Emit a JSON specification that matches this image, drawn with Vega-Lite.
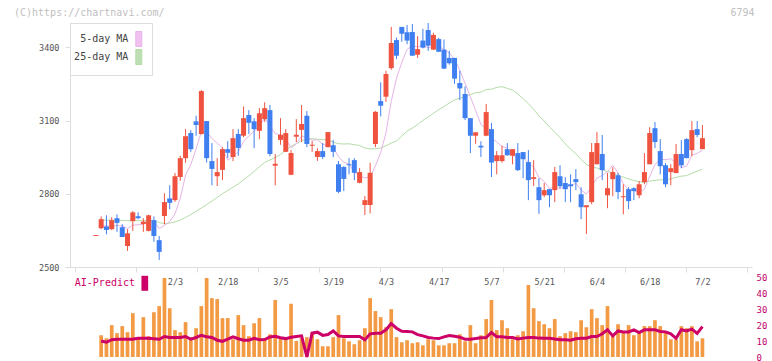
{
"$schema": "https://vega.github.io/schema/vega-lite/v6.json",
"background": "white",
"padding": {"left": 14, "top": 8, "right": 0, "bottom": 0},
"config": {"view": {"stroke": null}, "font": "DejaVu Sans Mono"},
"data": {"values": [
{"i":0,"o":2627,"h":2631,"l":2627,"c":2631},
{"i":1,"o":2659,"h":2707,"l":2655,"c":2696,"v":13.6,"a":10,"m5":2670,"m25":2692},
{"i":2,"o":2666,"h":2712,"l":2634,"c":2652,"v":11.7,"a":9.2,"m5":2668,"m25":2692},
{"i":3,"o":2655,"h":2704,"l":2651,"c":2692,"v":19.9,"a":10.8,"m5":2667,"m25":2692},
{"i":4,"o":2700,"h":2716,"l":2644,"c":2681,"v":14.9,"a":11.1,"m5":2670,"m25":2692},
{"i":5,"o":2663,"h":2675,"l":2623,"c":2623,"v":19.3,"a":11.1,"m5":2668.8,"m25":2691},
{"i":6,"o":2586,"h":2655,"l":2566,"c":2638,"v":15.5,"a":11.1,"m5":2657.2,"m25":2690},
{"i":7,"o":2688,"h":2729,"l":2648,"c":2724,"v":27.4,"a":11.1,"m5":2671.6,"m25":2690},
{"i":8,"o":2708,"h":2724,"l":2696,"c":2700,"v":11.7,"a":11.7,"m5":2673.2,"m25":2690},
{"i":9,"o":2676,"h":2700,"l":2644,"c":2686,"v":24.9,"a":11.7,"m5":2674.2,"m25":2690},
{"i":10,"o":2648,"h":2714,"l":2646,"c":2712,"v":13,"a":11.7,"m5":2692,"m25":2690},
{"i":11,"o":2692,"h":2707,"l":2603,"c":2627,"v":28,"a":11.4,"m5":2689.8,"m25":2689},
{"i":12,"o":2610,"h":2627,"l":2529,"c":2562,"v":31.8,"a":11.1,"m5":2657.4,"m25":2682},
{"i":13,"o":2709,"h":2802,"l":2675,"c":2766,"v":49.4,"a":12.8,"m5":2670.6,"m25":2678},
{"i":14,"o":2781,"h":2835,"l":2737,"c":2763,"v":30.5,"a":12.2,"m5":2686,"m25":2680},
{"i":15,"o":2774,"h":2885,"l":2767,"c":2872,"v":16.8,"a":12.2,"m5":2718,"m25":2685},
{"i":16,"o":2869,"h":2956,"l":2853,"c":2946,"v":15.5,"a":12.2,"m5":2781.8,"m25":2692},
{"i":17,"o":2946,"h":3065,"l":2927,"c":3036,"v":21.8,"a":12.8,"m5":2876.6,"m25":2703},
{"i":18,"o":3049,"h":3061,"l":2972,"c":2983,"v":12.4,"a":11.1,"m5":2920,"m25":2715},
{"i":19,"o":3097,"h":3120,"l":3038,"c":3082,"v":18,"a":12.2,"m5":2983.8,"m25":2728},
{"i":20,"o":3045,"h":3225,"l":3043,"c":3221,"v":31.8,"a":13.6,"m5":3053.6,"m25":2742},
{"i":21,"o":3098,"h":3098,"l":2928,"c":2946,"v":49.4,"a":12.6,"m5":3053.6,"m25":2756},
{"i":22,"o":2934,"h":3008,"l":2835,"c":2902,"v":36.8,"a":12.2,"m5":3026.8,"m25":2770},
{"i":23,"o":2872,"h":2946,"l":2832,"c":2889,"v":36.2,"a":10.5,"m5":3008,"m25":2785},
{"i":24,"o":2898,"h":2991,"l":2856,"c":2983,"v":24.3,"a":9.8,"m5":2988.2,"m25":2800.4},
{"i":25,"o":2983,"h":3016,"l":2947,"c":2968,"v":24.3,"a":11.1,"m5":2937.6,"m25":2814},
{"i":26,"o":2951,"h":3065,"l":2934,"c":3028,"v":11.1,"a":12.6,"m5":2954,"m25":2827.3},
{"i":27,"o":3045,"h":3065,"l":2956,"c":2988,"v":26.2,"a":11.4,"m5":2971.2,"m25":2840.7},
{"i":28,"o":3038,"h":3158,"l":3032,"c":3110,"v":19.9,"a":10.5,"m5":3015.4,"m25":2857.4},
{"i":29,"o":3123,"h":3143,"l":3045,"c":3091,"v":13,"a":10.5,"m5":3037,"m25":2873.8},
{"i":30,"o":3097,"h":3110,"l":2987,"c":3065,"v":21.1,"a":11.7,"m5":3056.4,"m25":2891.5},
{"i":31,"o":3058,"h":3151,"l":3024,"c":3130,"v":24.3,"a":10.8,"m5":3076.8,"m25":2911.2},
{"i":32,"o":3106,"h":3175,"l":3095,"c":3151,"v":11.7,"a":10.9,"m5":3109.4,"m25":2928.3},
{"i":33,"o":3143,"h":3164,"l":2954,"c":2963,"v":14.2,"a":12.5,"m5":3080,"m25":2938.8},
{"i":34,"o":2915,"h":2963,"l":2835,"c":2923,"v":35.6,"a":13,"m5":3046.4,"m25":2948.3},
{"i":35,"o":3021,"h":3110,"l":3001,"c":3042,"v":11.7,"a":12,"m5":3041.8,"m25":2961.5},
{"i":36,"o":2972,"h":3065,"l":2971,"c":3049,"v":11.7,"a":11.5,"m5":3025.6,"m25":2978.4},
{"i":37,"o":2878,"h":2979,"l":2876,"c":2967,"v":33.3,"a":12.3,"m5":2988.8,"m25":2994.6},
{"i":38,"o":3034,"h":3106,"l":3012,"c":3042,"v":10,"a":12.8,"m5":3004.6,"m25":3005.6},
{"i":39,"o":3062,"h":3164,"l":3012,"c":3086,"v":11.7,"a":13.2,"m5":3037.2,"m25":3018.5},
{"i":40,"o":3120,"h":3139,"l":2991,"c":3004,"v":12.4,"a":0,"m5":3029.6,"m25":3023.8},
{"i":41,"o":2997,"h":3016,"l":2972,"c":3001,"v":15.5,"a":14.9,"m5":3020,"m25":3026},
{"i":42,"o":2951,"h":2987,"l":2935,"c":2975,"v":11.1,"a":15.5,"m5":3021.6,"m25":3023.6},
{"i":43,"o":2975,"h":3008,"l":2942,"c":2951,"v":6.7,"a":13.5,"m5":3003.4,"m25":3022.3},
{"i":44,"o":2991,"h":3053,"l":2991,"c":3053,"v":6.7,"a":14,"m5":2996.8,"m25":3021.1},
{"i":45,"o":2999,"h":3021,"l":2950,"c":2972,"v":12.4,"a":16.3,"m5":2990.4,"m25":3011.2},
{"i":46,"o":2921,"h":2934,"l":2802,"c":2808,"v":26.2,"a":13.2,"m5":2951.8,"m25":3005.6},
{"i":47,"o":2910,"h":2913,"l":2811,"c":2861,"v":11.7,"a":12.8,"m5":2929,"m25":3004},
{"i":48,"o":2921,"h":2946,"l":2880,"c":2917,"v":9.8,"a":12.8,"m5":2922.2,"m25":3005.1},
{"i":49,"o":2938,"h":2946,"l":2856,"c":2886,"v":8,"a":12.8,"m5":2888.8,"m25":3001.2},
{"i":50,"o":2845,"h":2905,"l":2843,"c":2889,"v":10.5,"a":12.8,"m5":2872.2,"m25":2998.1},
{"i":51,"o":2754,"h":2791,"l":2713,"c":2774,"v":18,"a":10.7,"m5":2865.4,"m25":2987.9},
{"i":52,"o":2754,"h":2927,"l":2720,"c":2886,"v":36.8,"a":14.5,"m5":2870.4,"m25":2983.8},
{"i":53,"o":3004,"h":3139,"l":2991,"c":3136,"v":28.7,"a":14.9,"m5":2914.2,"m25":2984.9},
{"i":54,"o":3180,"h":3257,"l":3117,"c":3161,"v":24.9,"a":14.9,"m5":2969.2,"m25":2987.7},
{"i":55,"o":3198,"h":3304,"l":3177,"c":3291,"v":18.6,"a":17,"m5":3049.6,"m25":2996.7},
{"i":56,"o":3315,"h":3484,"l":3308,"c":3418,"v":29.9,"a":20.9,"m5":3178.4,"m25":3008.2},
{"i":57,"o":3430,"h":3440,"l":3352,"c":3366,"v":12.4,"a":18,"m5":3274.4,"m25":3016.8},
{"i":58,"o":3484,"h":3484,"l":3423,"c":3456,"v":9.2,"a":16.1,"m5":3338.4,"m25":3036.6},
{"i":59,"o":3462,"h":3492,"l":3413,"c":3428,"v":10.5,"a":16,"m5":3391.8,"m25":3056.8},
{"i":60,"o":3463,"h":3496,"l":3366,"c":3366,"v":8.6,"a":15.7,"m5":3406.8,"m25":3069.7},
{"i":61,"o":3370,"h":3446,"l":3357,"c":3393,"v":9.2,"a":14,"m5":3401.8,"m25":3083.5},
{"i":62,"o":3428,"h":3476,"l":3396,"c":3399,"v":7.3,"a":13.2,"m5":3408.4,"m25":3100.8},
{"i":63,"o":3471,"h":3500,"l":3386,"c":3407,"v":11.1,"a":12.2,"m5":3398.6,"m25":3115.4},
{"i":64,"o":3391,"h":3460,"l":3389,"c":3451,"v":10.5,"a":11.8,"m5":3403.2,"m25":3130},
{"i":65,"o":3434,"h":3439,"l":3381,"c":3382,"v":7.3,"a":11.5,"m5":3406.4,"m25":3145.1},
{"i":66,"o":3391,"h":3432,"l":3311,"c":3313,"v":7.3,"a":12.6,"m5":3390.4,"m25":3157.6},
{"i":67,"o":3357,"h":3386,"l":3329,"c":3335,"v":8.6,"a":13.4,"m5":3377.6,"m25":3172},
{"i":68,"o":3357,"h":3357,"l":3251,"c":3272,"v":8.6,"a":13,"m5":3350.6,"m25":3184.8},
{"i":69,"o":3254,"h":3304,"l":3184,"c":3232,"v":14.2,"a":12.4,"m5":3306.8,"m25":3192},
{"i":70,"o":3209,"h":3240,"l":3102,"c":3110,"v":9.8,"a":11.1,"m5":3252.4,"m25":3197.5},
{"i":71,"o":3110,"h":3110,"l":2967,"c":3038,"v":19.9,"a":11.1,"m5":3197.4,"m25":3206.7},
{"i":72,"o":3038,"h":3053,"l":3005,"c":3052,"v":8.6,"a":11.5,"m5":3140.8,"m25":3214.3},
{"i":73,"o":2997,"h":3015,"l":2951,"c":2990,"v":13.6,"a":12,"m5":3084.4,"m25":3217.2},
{"i":74,"o":3038,"h":3168,"l":3036,"c":3135,"v":23.7,"a":12.2,"m5":3065,"m25":3227.2},
{"i":75,"o":3065,"h":3090,"l":2869,"c":2928,"v":35.6,"a":15.3,"m5":3028.6,"m25":3228.8},
{"i":76,"o":2934,"h":2975,"l":2880,"c":2958,"v":16.8,"a":12.6,"m5":3012.6,"m25":3236.1},
{"i":77,"o":2934,"h":2997,"l":2928,"c":2958,"v":23,"a":12.6,"m5":2993.8,"m25":3239},
{"i":78,"o":2983,"h":3008,"l":2956,"c":2958,"v":18,"a":12.2,"m5":2987.4,"m25":3231.9},
{"i":79,"o":2956,"h":2983,"l":2921,"c":2983,"v":11.1,"a":12.2,"m5":2957,"m25":3224.8},
{"i":80,"o":2967,"h":3008,"l":2893,"c":2897,"v":13.6,"a":11.3,"m5":2950.8,"m25":3209},
{"i":81,"o":2971,"h":2971,"l":2864,"c":2942,"v":16.1,"a":11.8,"m5":2947.6,"m25":3190},
{"i":82,"o":2930,"h":2979,"l":2774,"c":2856,"v":45,"a":12.2,"m5":2927.2,"m25":3169.6},
{"i":83,"o":2861,"h":2938,"l":2832,"c":2868,"v":30.5,"a":12.2,"m5":2909.2,"m25":3146},
{"i":84,"o":2827,"h":2864,"l":2718,"c":2774,"v":22.4,"a":11.8,"m5":2867.4,"m25":3119.9},
{"i":85,"o":2794,"h":2844,"l":2786,"c":2815,"v":20.5,"a":11.7,"m5":2851,"m25":3097.8},
{"i":86,"o":2819,"h":2819,"l":2745,"c":2794,"v":18,"a":11.7,"m5":2821.4,"m25":3073.9},
{"i":87,"o":2815,"h":2910,"l":2766,"c":2889,"v":23.7,"a":11.2,"m5":2828,"m25":3053.5},
{"i":88,"o":2872,"h":2917,"l":2823,"c":2831,"v":13,"a":10.8,"m5":2820.6,"m25":3030.4},
{"i":89,"o":2844,"h":2868,"l":2766,"c":2819,"v":14.9,"a":10.8,"m5":2829.6,"m25":3005.2},
{"i":90,"o":2839,"h":2880,"l":2766,"c":2831,"v":16.1,"a":10.5,"m5":2832.8,"m25":2983.1},
{"i":91,"o":2860,"h":2901,"l":2815,"c":2848,"v":15.5,"a":11.4,"m5":2843.6,"m25":2964.5},
{"i":92,"o":2798,"h":2827,"l":2696,"c":2745,"v":23,"a":11.7,"m5":2814.8,"m25":2940.9},
{"i":93,"o":2745,"h":2753,"l":2635,"c":2753,"v":18.6,"a":11.7,"m5":2799.2,"m25":2920.2},
{"i":94,"o":2766,"h":3008,"l":2757,"c":2971,"v":29.9,"a":12.8,"m5":2829.6,"m25":2909.7},
{"i":95,"o":2921,"h":3053,"l":2921,"c":3008,"v":24.3,"a":12.8,"m5":2865,"m25":2905.6},
{"i":96,"o":2963,"h":3041,"l":2856,"c":2897,"v":19.9,"a":14.5,"m5":2874.8,"m25":2900},
{"i":97,"o":2794,"h":2885,"l":2741,"c":2823,"v":31.8,"a":17,"m5":2890.4,"m25":2890.8},
{"i":98,"o":2860,"h":2909,"l":2790,"c":2889,"v":13,"a":13.2,"m5":2917.6,"m25":2886.8},
{"i":99,"o":2876,"h":2885,"l":2778,"c":2807,"v":20.5,"a":16.3,"m5":2884.8,"m25":2873.7},
{"i":100,"o":2786,"h":2839,"l":2716,"c":2790,"v":15.5,"a":15.7,"m5":2841.2,"m25":2868.2},
{"i":101,"o":2819,"h":2827,"l":2737,"c":2770,"v":19.9,"a":15.7,"m5":2815.8,"m25":2860.6},
{"i":102,"o":2823,"h":2827,"l":2774,"c":2811,"v":13.6,"a":17,"m5":2813.4,"m25":2854.8},
{"i":103,"o":2794,"h":2852,"l":2782,"c":2839,"v":16.1,"a":15.3,"m5":2803.4,"m25":2850},
{"i":104,"o":2848,"h":2967,"l":2839,"c":2889,"v":19.3,"a":17,"m5":2819.8,"m25":2846.2},
{"i":105,"o":2921,"h":3073,"l":2921,"c":3049,"v":19.3,"a":17,"m5":2871.6,"m25":2852.3},
{"i":106,"o":3069,"h":3094,"l":2987,"c":3012,"v":23,"a":17,"m5":2920,"m25":2855.1},
{"i":107,"o":2975,"h":3024,"l":2880,"c":2913,"v":19.3,"a":16,"m5":2940.4,"m25":2857.4},
{"i":108,"o":2917,"h":2926,"l":2827,"c":2839,"v":16.1,"a":15.7,"m5":2940.4,"m25":2856.2},
{"i":109,"o":2889,"h":2921,"l":2835,"c":2905,"v":11.1,"a":14.5,"m5":2943.6,"m25":2861.5},
{"i":110,"o":2885,"h":3004,"l":2884,"c":2963,"v":11.1,"a":11.7,"m5":2926.4,"m25":2867.4},
{"i":111,"o":2963,"h":3020,"l":2905,"c":2917,"v":19.3,"a":17,"m5":2907.4,"m25":2872.3},
{"i":112,"o":3024,"h":3028,"l":2946,"c":2946,"v":18,"a":16.3,"m5":2914,"m25":2874.6},
{"i":113,"o":2979,"h":3098,"l":2954,"c":3061,"v":19.3,"a":17.4,"m5":2958.4,"m25":2883.8},
{"i":114,"o":3065,"h":3098,"l":3032,"c":3041,"v":9.8,"a":14.7,"m5":2965.6,"m25":2892.7},
{"i":115,"o":2983,"h":3082,"l":2983,"c":3028,"v":11.7,"a":19,"m5":2978.6,"m25":2900.6}
]},
"spacing": 10,
"bounds": "flush",
"resolve": {"scale": {"color": "independent"}, "legend": {"color": "independent"}},
"vconcat": [
{
 "width": 682, "height": 244,
 "title": {"text": "(C)https://chartnavi.com/\u00a0\u00a0\u00a0\u00a0\u00a0\u00a0\u00a0\u00a0\u00a0\u00a0\u00a0\u00a0\u00a0\u00a0\u00a0\u00a0\u00a0\u00a0\u00a0\u00a0\u00a0\u00a0\u00a0\u00a0\u00a0\u00a0\u00a0\u00a0\u00a0\u00a0\u00a0\u00a0\u00a0\u00a0\u00a0\u00a0\u00a0\u00a0\u00a0\u00a0\u00a0\u00a0\u00a0\u00a0\u00a0\u00a0\u00a0\u00a0\u00a0\u00a0\u00a0\u00a0\u00a0\u00a0\u00a0\u00a0\u00a0\u00a0\u00a0\u00a0\u00a0\u00a0\u00a0\u00a0\u00a0\u00a0\u00a0\u00a0\u00a0\u00a0\u00a0\u00a0\u00a0\u00a0\u00a0\u00a0\u00a0\u00a0\u00a0\u00a0\u00a0\u00a0\u00a0\u00a0\u00a0\u00a0\u00a0\u00a0\u00a0\u00a0\u00a0\u00a0\u00a0\u00a06794", "anchor": "start", "frame": "group", "dx": -56, "offset": -3.5, "baseline": "alphabetic", "color": "#c0c0c0", "font": "DejaVu Sans Mono", "fontSize": 10, "fontWeight": "normal", "limit": 0},
 "encoding": {"x": {"field": "i", "type": "quantitative", "title": null,
   "scale": {"domain": [-3.96, 123.45], "nice": false, "zero": false},
   "axis": {"values": [-3.96, 7.623, 19.206, 30.789, 42.372, 53.955, 65.538, 77.121, 88.704, 100.287, 111.87, 123.45], "labels": false, "grid": false, "domainColor": "#dddddd", "tickColor": "#dddddd", "tickSize": 5, "title": null}}},
 "layer": [
  {"mark": {"type": "line", "strokeWidth": 1},
   "encoding": {
    "y": {"field": "m25", "type": "quantitative", "title": null,
      "scale": {"domain": [2500, 3500], "nice": false, "zero": false},
      "axis": {"values": [2500, 2800, 3100, 3400], "format": "d", "grid": false, "domainColor": "#dddddd", "tickColor": "#dddddd", "tickSize": 5, "labelPadding": 6, "labelColor": "#555555", "labelFont": "DejaVu Sans Mono", "labelFontSize": 8.5, "title": null}},
    "color": {"datum": "25-day MA", "scale": {"domain": ["5-day MA", "25-day MA"], "range": ["#e6b4e6", "#b4dca8"]},
      "legend": {"orient": "top-left", "offset": 0, "title": null, "padding": 8, "rowPadding": -3, "fillColor": "white", "strokeColor": "#dddddd",
        "symbolType": "M-0.4,-1H0.4V1H-0.4Z", "symbolSize": 225, "symbolStrokeWidth": 1,
        "labelAlign": "right", "labelOffset": -18.5, "symbolOffset": 52.8,
        "labelFont": "DejaVu Sans Mono", "labelFontSize": 10, "labelColor": "#444444",
        "encode": {"symbols": {"update": {"fill": [{"test": "datum.value === '5-day MA'", "value": "#f0c0f0"}, {"value": "#bcdeb2"}], "stroke": {"value": "#555555"}, "strokeWidth": {"value": 1}, "opacity": {"value": 1}}}}}}}},
  {"mark": {"type": "line", "strokeWidth": 1},
   "encoding": {"y": {"field": "m5", "type": "quantitative", "title": null}, "color": {"datum": "5-day MA"}}},
  {"mark": {"type": "rule", "strokeWidth": 1},
   "encoding": {"y": {"field": "l", "type": "quantitative", "title": null}, "y2": {"field": "h"},
     "color": {"condition": {"test": "datum.c >= datum.o", "value": "#ef5340"}, "value": "#3f7ff0"}}},
  {"mark": {"type": "bar", "size": 5},
   "encoding": {"y": {"field": "o", "type": "quantitative", "title": null}, "y2": {"field": "c"},
     "color": {"condition": {"test": "datum.c >= datum.o", "value": "#ef5340"}, "value": "#3f7ff0"}}}
 ]
},
{
 "width": 682, "height": 80,
 "encoding": {"x": {"field": "i", "type": "quantitative", "title": null,
   "scale": {"domain": [-3.96, 123.45], "nice": false, "zero": false},
   "axis": {"orient": "top", "values": [15, 25, 35, 45, 55, 65, 75, 85, 95, 105, 115],
     "labelExpr": "['2/3','2/18','3/5','3/19','4/3','4/17','5/7','5/21','6/4','6/18','7/2'][round((datum.value-15)/10)]",
     "domain": false, "ticks": false, "tickSize": 0, "grid": false, "labelPadding": -4.5, "labelBaseline": "middle", "labelFlush": false, "labelOverlap": false,
     "labelColor": "#555555", "labelFont": "DejaVu Sans Mono", "labelFontSize": 8.5, "title": null}}},
 "layer": [
  {"mark": {"type": "bar", "size": 3.7, "color": "#f39a45"},
   "encoding": {"y": {"field": "v", "type": "quantitative", "title": null,
     "scale": {"domain": [0, 50], "nice": false},
     "axis": {"orient": "right", "values": [0, 10, 20, 30, 40, 50], "tickCount": 6, "domain": false, "ticks": false, "grid": false, "labelPadding": 4, "labelOverlap": false, "labelFlush": false, "labelColor": "#c0006a", "labelFont": "DejaVu Sans Mono", "labelFontSize": 9, "title": null}}}},
  {"mark": {"type": "line", "strokeWidth": 3},
   "encoding": {"y": {"field": "a", "type": "quantitative", "title": null,
     "axis": {"orient": "right", "values": [0, 10, 20, 30, 40, 50], "tickCount": 6, "domain": false, "ticks": false, "grid": false, "labelPadding": 4, "labelOverlap": false, "labelFlush": false, "labelColor": "#c0006a", "labelFont": "DejaVu Sans Mono", "labelFontSize": 9, "title": null}},
     "color": {"datum": "AI-Predict", "scale": {"domain": ["AI-Predict"], "range": ["#cc0066"]},
       "legend": {"orient": "none", "legendX": 6, "legendY": -1.2, "title": null, "padding": 0,
         "symbolType": "M-0.447,-1H0.447V1H-0.447Z", "symbolSize": 225,
         "labelAlign": "right", "labelOffset": -17.3, "symbolOffset": 61.3,
         "labelFont": "DejaVu Sans Mono", "labelFontSize": 10, "labelColor": "#cc0066",
         "encode": {"symbols": {"update": {"fill": {"value": "#cc0066"}, "stroke": {"value": "#cc0066"}, "strokeWidth": {"value": 0}, "opacity": {"value": 1}}}}}}}}
 ]
}
]
}
